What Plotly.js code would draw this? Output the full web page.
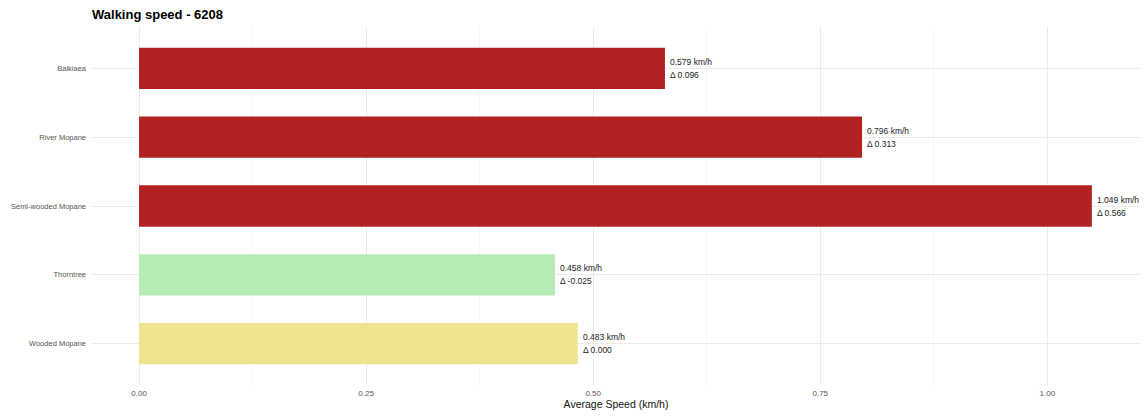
<!DOCTYPE html>
<html>
<head>
<meta charset="utf-8">
<script src="https://cdn.plot.ly/plotly-3.0.1.min.js"></script>
<style>html,body{margin:0;padding:0;background:#fff;}#chart{width:1145px;height:416px;}</style>
</head>
<body>
<div id="chart"></div>
<script>
const categories = ["Baikiaea", "River Mopane", "Semi-wooded Mopane", "Thorntree", "Wooded Mopane"];
const speeds = [0.579, 0.796, 1.049, 0.458, 0.483];
const deltas = ["0.096", "0.313", "0.566", "-0.025", "0.000"];
const barColors = ["#B22222", "#B22222", "#B22222", "#B4ECB4", "#EDE48D"];
const xTickVals = [0, 0.25, 0.5, 0.75, 1.0];
const xTickText = ["0.00", "0.25", "0.50", "0.75", "1.00"];

const trace = {
  type: "bar",
  orientation: "h",
  y: categories,
  x: speeds,
  width: 0.6,
  marker: {color: barColors, line: {width: 0}},
  hoverinfo: "skip"
};

const annFont = {family: "Liberation Sans, Arial, sans-serif", size: 8.5, color: "#222"};
const annotations = [];
categories.forEach((c, i) => {
  annotations.push({
    x: speeds[i], y: c, xref: "x", yref: "y",
    text: speeds[i].toFixed(3) + " km/h",
    showarrow: false, xanchor: "left", yanchor: "middle", align: "left",
    xshift: 3, yshift: 6.5, font: annFont
  });
  annotations.push({
    x: speeds[i], y: c, xref: "x", yref: "y",
    text: "\u0394 " + deltas[i],
    showarrow: false, xanchor: "left", yanchor: "middle", align: "left",
    xshift: 3, yshift: -6.5, font: annFont
  });
});

const layout = {
  width: 1145, height: 416,
  margin: {l: 92, r: 5, t: 27, b: 31},
  paper_bgcolor: "#fff", plot_bgcolor: "#fff",
  showlegend: false,
  title: {
    text: "<b>Walking speed - 6208</b>",
    x: 0, xref: "paper", xanchor: "left",
    y: 0.965, yref: "container", yanchor: "middle",
    font: {family: "Liberation Sans, Arial, sans-serif", size: 13, color: "#000"}
  },
  xaxis: {
    range: [-0.0518, 1.102],
    tickvals: xTickVals, ticktext: xTickText,
    showgrid: true, gridcolor: "#ebebeb", gridwidth: 1,
    minor: {dtick: 0.125, showgrid: true, gridcolor: "#f4f4f4", gridwidth: 0.6},
    zeroline: false, showline: false, ticks: "",
    tickfont: {family: "Liberation Sans, Arial, sans-serif", size: 8, color: "#555"},
    ticklabelstandoff: 2,
    title: {text: "Average Speed (km/h)", standoff: 2,
      font: {family: "Liberation Sans, Arial, sans-serif", size: 10.5, color: "#111"}}
  },
  yaxis: {
    categoryorder: "array", categoryarray: categories.slice().reverse(),
    range: [-0.6, 4.6],
    showgrid: true, gridcolor: "#ebebeb", gridwidth: 1,
    zeroline: false, showline: false, ticks: "",
    tickfont: {family: "Liberation Sans, Arial, sans-serif", size: 7.5, color: "#555"},
    ticklabelstandoff: 5
  },
  annotations: annotations
};

Plotly.newPlot("chart", [trace], layout, {displayModeBar: false, staticPlot: true});
</script>
</body>
</html>
